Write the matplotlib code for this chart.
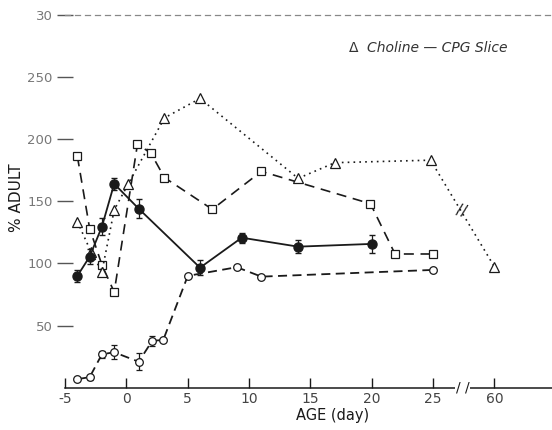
import matplotlib
matplotlib.use("Agg")
import matplotlib.pyplot as plt
import numpy as np

# ---- data ----
fill_days = [-4, -3, -2, -1, 1, 6, 9.4, 14, 20]
fill_vals = [90, 105.5, 129.6, 164, 144, 96.6, 120.7, 113.5, 115.7]
fill_err = [5, 6, 7, 5, 7.5, 6, 4, 5.5, 7.5]

open_days = [-4, -3, -2, -1, 1, 2.1, 3, 5, 9, 11, 25]
open_vals = [7, 8.6, 27, 28.6, 21, 37.8, 38.5, 90, 97, 89.4, 94.8]
open_err = [0, 2, 3, 5.5, 7, 4, 0, 0, 0, 0, 0]

sq_days = [-4, -3, -2, -1, 0.9, 2, 3.1, 7, 11, 19.9, 21.9, 25]
sq_vals = [186, 128, 98.8, 77, 196, 188.5, 169, 143.5, 174, 148, 107.6, 107.6]

tri_days = [-4, -2.9, -2, -1, 0.15, 3.1, 6, 14, 17, 24.8, 60]
tri_vals = [133.6, 109.5, 93.4, 143, 164, 217, 232.6, 168.4, 181, 183, 97.4]

xtick_days = [-5, 0, 5, 10, 15, 20, 25, 60]
ytick_vals = [50, 100, 150, 200, 250, 300]
ytick_labels = ["50", "100", "150", "200", "250", "30"]


def pos(d):
    # broken axis: 60 days is drawn where 30 would be
    d = np.asarray(d, dtype=float)
    return np.where(d > 25, 30 + (d - 60), d)


ink = "#1a1a1a"
fig = plt.figure(figsize=(5.52, 4.30), dpi=100)
ax = fig.add_axes([0.118, 0.098, 0.882, 0.868])

# squares, dashed
ax.plot(pos(sq_days), sq_vals, ls=(0, (6, 4)), color=ink, lw=1.2,
        marker="s", ms=5.5, mfc="white", mec=ink, mew=0.9, zorder=3)
# triangles, dotted
ax.plot(pos(tri_days), tri_vals, ls=(0, (1, 2.5)), color=ink, lw=1.2,
        marker="^", ms=6.5, mfc="white", mec=ink, mew=0.9, zorder=3)
# open circles, dashed
ax.errorbar(pos(open_days), open_vals, yerr=open_err, ls=(0, (5, 3)),
            color=ink, lw=1.3, marker="o", ms=5.5, mfc="white", mec=ink,
            mew=0.9, capsize=2.5, elinewidth=0.9, zorder=4)
# filled circles, solid
ax.errorbar(pos(fill_days), fill_vals, yerr=fill_err, ls="-", color=ink,
            lw=1.3, marker="o", ms=6.5, mfc=ink, mec=ink, capsize=2.5,
            elinewidth=0.9, zorder=5)

# break marks
bx = 27.3
by = np.interp(bx, pos([24.8, 60]), [183, 97.4])
ax.text(bx, by, "//", fontsize=11, ha="center", va="center", color=ink,
        rotation=-15, zorder=6)
ax.text(27.4, 0, "/ /", fontsize=10, ha="center", va="center", color=ink,
        zorder=6, bbox=dict(fc="white", ec="none", pad=0.5))

ax.set_xlim(-5, 34.7)
ax.set_ylim(0, 300)
ax.set_xticks(pos(xtick_days))
ax.set_xticklabels([str(d) for d in xtick_days])
ax.set_yticks(ytick_vals)
ax.set_yticklabels(ytick_labels)

ax.tick_params(axis="x", direction="in", length=7, width=1, colors=ink,
               labelsize=10, labelcolor="#444444", pad=3)
ax.tick_params(axis="y", direction="inout", length=12, width=1,
               colors="#555555", labelsize=9.5, labelcolor="#777777", pad=3)

for s in ["left", "right"]:
    ax.spines[s].set_visible(False)
ax.spines["bottom"].set_color(ink)
ax.spines["bottom"].set_linewidth(1.1)
ax.spines["top"].set_color("#888888")
ax.spines["top"].set_linestyle((0, (4, 4)))
ax.spines["top"].set_linewidth(0.9)

ax.set_xlabel("AGE (day)", fontsize=10.5, color=ink)
ax.xaxis.set_label_coords(0.55, -0.055)
ax.set_ylabel("% ADULT", fontsize=11, color=ink)
ax.yaxis.set_label_coords(-0.085, 0.51)

fig.text(0.632, 0.888, "\u0394", fontsize=10, color="#333333",
         ha="left", va="center")
fig.text(0.665, 0.888, "Choline \u2014 CPG Slice", fontsize=10,
         style="italic", color="#333333", ha="left", va="center")

fig.savefig("out.png", dpi=100, facecolor="white")
